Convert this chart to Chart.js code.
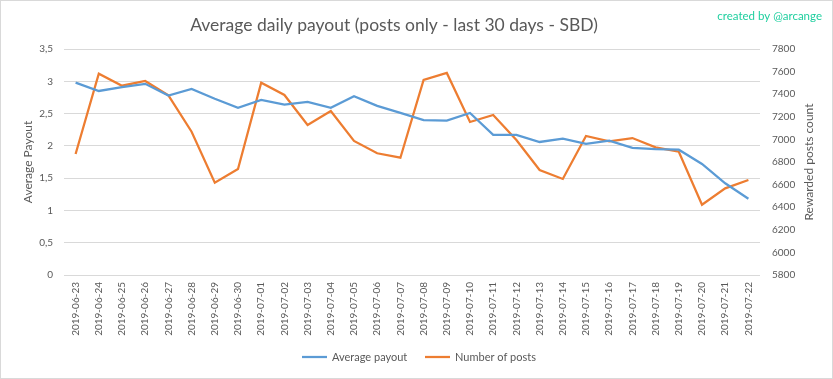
<!DOCTYPE html>
<html>
<head>
<meta charset="utf-8">
<script src="https://cdn.jsdelivr.net/npm/chart.js@4"></script>
<style>
  html, body { margin: 0; padding: 0; background: #ffffff; }
  #wrap { width: 833px; height: 379px; }
</style>
</head>
<body>
<div id="wrap"><canvas id="c" width="833" height="379"></canvas></div>
<script>
const dates = ["2019-06-23","2019-06-24","2019-06-25","2019-06-26","2019-06-27","2019-06-28","2019-06-29","2019-06-30",
  "2019-07-01","2019-07-02","2019-07-03","2019-07-04","2019-07-05","2019-07-06","2019-07-07","2019-07-08","2019-07-09",
  "2019-07-10","2019-07-11","2019-07-12","2019-07-13","2019-07-14","2019-07-15","2019-07-16","2019-07-17","2019-07-18",
  "2019-07-19","2019-07-20","2019-07-21","2019-07-22"];
const avgPayout = [2.98, 2.85, 2.91, 2.96, 2.78, 2.88, 2.73, 2.59, 2.71, 2.64, 2.68, 2.59, 2.77, 2.62, 2.51, 2.40,
  2.39, 2.51, 2.17, 2.17, 2.06, 2.11, 2.03, 2.08, 1.97, 1.95, 1.94, 1.72, 1.42, 1.18];
const numPosts = [6871, 7581, 7475, 7517, 7390, 7068, 6617, 6738, 7502, 7393, 7127, 7251, 6986, 6877, 6838, 7526,
  7588, 7154, 7216, 6995, 6729, 6650, 7030, 6983, 7012, 6930, 6891, 6422, 6567, 6641];
const leftTicks = [0, 0.5, 1, 1.5, 2, 2.5, 3, 3.5];
const rightTicks = [5800, 6000, 6200, 6400, 6600, 6800, 7000, 7200, 7400, 7600, 7800];

const titleText = "Average daily payout (posts only - last 30 days - SBD)";
const creditText = "created by @arcange";
const leftTitle = "Average Payout";
const rightTitle = "Rewarded posts count";
const seriesNames = ["Average payout", "Number of posts"];
const colors = ["#5b9bd5", "#ed7d31"];

const FONT = "Lato, 'Noto Sans', sans-serif";
const GREY = "#595959";

const decor = {
  id: 'decor',
  afterDraw(chart) {
    const ctx = chart.ctx;
    const a = chart.chartArea;
    ctx.save();
    // frame
    ctx.strokeStyle = "#d9d9d9";
    ctx.lineWidth = 1;
    ctx.strokeRect(0.5, 0.5, chart.width - 1, chart.height - 1);
    // title
    ctx.fillStyle = GREY;
    ctx.font = "17.5px " + FONT;
    ctx.textAlign = "center";
    ctx.textBaseline = "alphabetic";
    ctx.fillText(titleText, 394, 31);
    // credit
    ctx.fillStyle = "#1fcf9f";
    ctx.font = "11.5px " + FONT;
    ctx.textAlign = "right";
    ctx.fillText(creditText, 822, 20);
    // axis titles
    ctx.fillStyle = GREY;
    ctx.font = "12px " + FONT;
    ctx.textAlign = "center";
    ctx.textBaseline = "middle";
    const midY = (a.top + a.bottom) / 2;
    ctx.save();
    ctx.translate(28, midY);
    ctx.rotate(-Math.PI / 2);
    ctx.fillText(leftTitle, 0, 0);
    ctx.restore();
    ctx.save();
    ctx.translate(809, midY);
    ctx.rotate(-Math.PI / 2);
    ctx.fillText(rightTitle, 0, 0);
    ctx.restore();
    // legend
    ctx.font = "11px " + FONT;
    ctx.textAlign = "left";
    ctx.textBaseline = "middle";
    const ly = 357;
    const items = [[302, 332], [425, 455]];
    chart.data.datasets.forEach((ds, i) => {
      ctx.strokeStyle = ds.borderColor;
      ctx.lineWidth = 2.25;
      ctx.beginPath();
      ctx.moveTo(items[i][0], ly);
      ctx.lineTo(items[i][0] + 25, ly);
      ctx.stroke();
      ctx.fillStyle = GREY;
      ctx.fillText(ds.label, items[i][1], ly);
    });
    ctx.restore();
  }
};

new Chart(document.getElementById('c'), {
  type: 'line',
  data: {
    labels: dates,
    datasets: [
      { label: seriesNames[0], data: avgPayout, yAxisID: 'y', borderColor: colors[0], backgroundColor: colors[0],
        borderWidth: 2.25, pointRadius: 0, tension: 0, fill: false },
      { label: seriesNames[1], data: numPosts, yAxisID: 'y1', borderColor: colors[1], backgroundColor: colors[1],
        borderWidth: 2.25, pointRadius: 0, tension: 0, fill: false }
    ]
  },
  options: {
    responsive: false,
    animation: false,
    events: [],
    layout: { padding: { top: 49, left: 0, right: 0, bottom: 0 }, autoPadding: false },
    plugins: { legend: { display: false }, title: { display: false }, tooltip: { enabled: false } },
    scales: {
      x: {
        offset: true,
        grid: { display: false, drawTicks: false },
        border: { display: false },
        ticks: { color: GREY, font: { family: FONT, size: 10 }, minRotation: 90, maxRotation: 90, padding: 7, autoSkip: false },
        afterFit(s) { s.height = 104; }
      },
      y: {
        position: 'left',
        min: 0, max: 3.5,
        afterBuildTicks(s) { s.ticks = leftTicks.map(v => ({ value: v })); },
        grid: { color: "#d9d9d9", lineWidth: 1, drawTicks: false },
        border: { display: false },
        ticks: { color: GREY, font: { family: FONT, size: 10 }, padding: 11,
          callback: v => String(v).replace('.', ',') },
        afterFit(s) { s.width = 64; }
      },
      y1: {
        position: 'right',
        min: 5800, max: 7800,
        afterBuildTicks(s) { s.ticks = rightTicks.map(v => ({ value: v })); },
        grid: { drawOnChartArea: false, drawTicks: false },
        border: { display: false },
        ticks: { color: GREY, font: { family: FONT, size: 10 }, padding: 12,
          callback: v => String(v) },
        afterFit(s) { s.width = 73; }
      }
    }
  },
  plugins: [decor]
});
</script>
</body>
</html>
